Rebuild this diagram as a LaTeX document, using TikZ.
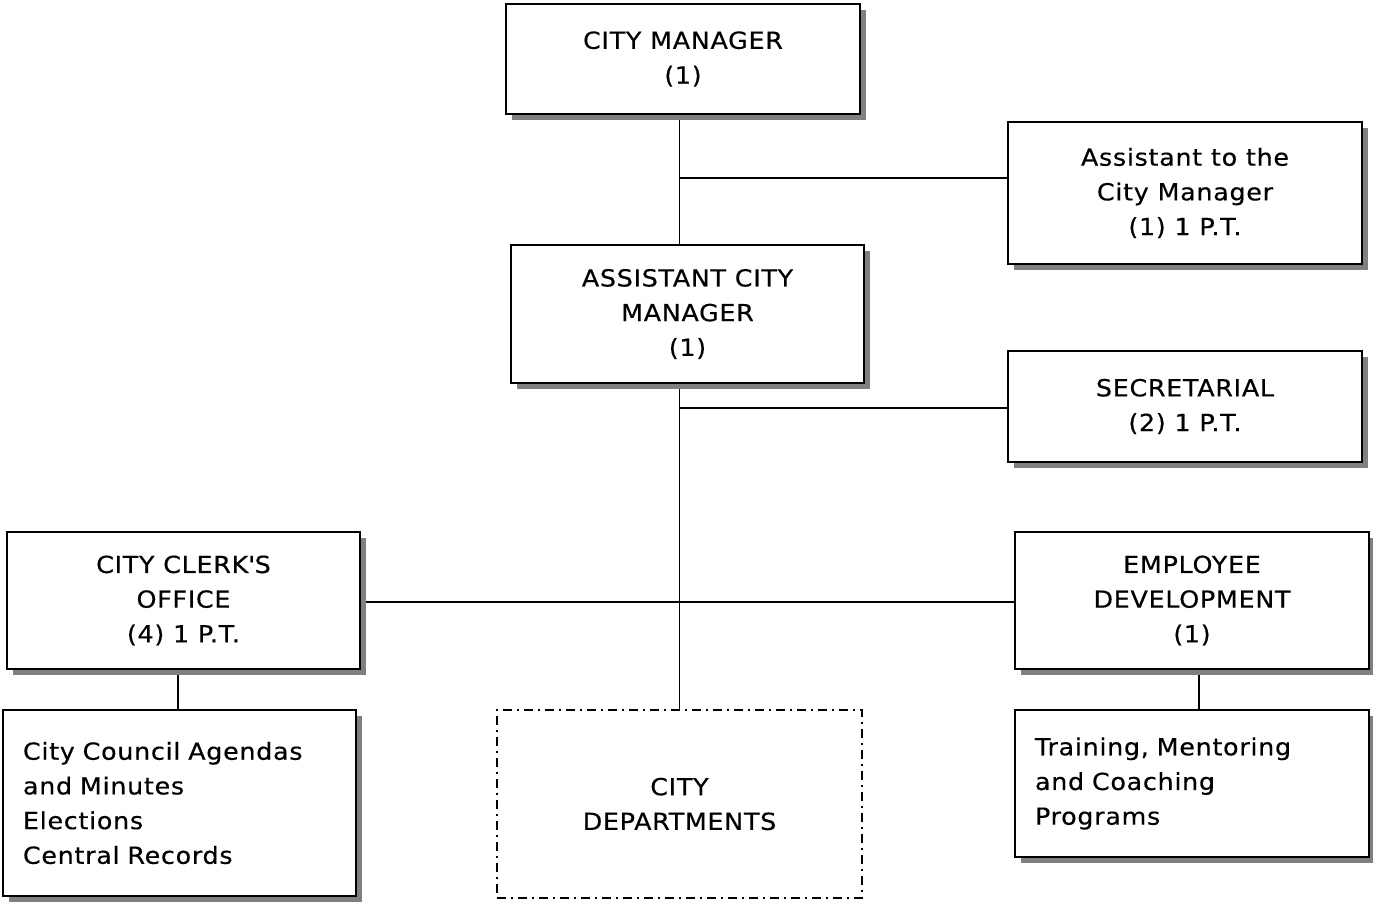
\documentclass[tikz,border=0pt]{standalone}
\usepackage{fontspec}
\setmainfont{DejaVu Sans}[FakeStretch=1.08, LetterSpace=3, FakeBold=0.4]
\usetikzlibrary{shadows,backgrounds}

\begin{document}
\begin{tikzpicture}[x=1pt,y=-1pt,
  every node/.style={font=\fontsize{23.5pt}{34.7pt}\selectfont, inner sep=0pt},
  orgbox/.style={draw, line width=1.9pt, fill=white, align=center,
    drop shadow={shadow xshift=6pt, shadow yshift=-6pt, fill=black!50, opacity=1}},
  listbox/.style={orgbox, align=left, inner xsep=20pt},
  deptbox/.style={draw, line width=1.5pt, align=center,
    dash pattern=on 9pt off 5pt on 2pt off 5pt},
  link/.style={line width=1.8pt}]

\useasboundingbox (0,0) rectangle (1373,907);

% top of the chart
\node[orgbox, minimum width=354pt, minimum height=110pt] (cm) at (683,59)
  {CITY MANAGER\\(1)};
\node[orgbox, minimum width=354pt, minimum height=142pt] (atcm) at (1185,193)
  {Assistant to the\\City Manager\\(1) 1 P.T.};
\node[orgbox, minimum width=353pt, minimum height=138pt] (acm) at (687.5,314)
  {ASSISTANT CITY\\MANAGER\\(1)};
\node[orgbox, minimum width=354pt, minimum height=111pt] (sec) at (1185,406.5)
  {SECRETARIAL\\(2) 1 P.T.};

% middle row
\node[orgbox, minimum width=353pt, minimum height=137pt] (clerk) at (183.5,600.5)
  {CITY CLERK\textquotesingle S\\OFFICE\\(4) 1 P.T.};
\node[orgbox, minimum width=354pt, minimum height=137pt] (emp) at (1192,600.5)
  {EMPLOYEE\\DEVELOPMENT\\(1)};

% bottom row
\node[listbox, text width=313pt, minimum height=186pt] (council) at (179.5,803)
  {City Council Agendas\\and Minutes\\Elections\\Central Records};
\node[deptbox, minimum width=365pt, minimum height=188pt] (dept) at (679.5,804)
  {CITY\\DEPARTMENTS};
\node[listbox, text width=314pt, minimum height=147pt] (train) at (1192,783.5)
  {Training, Mentoring\\and Coaching\\Programs};

% connectors, kept behind the boxes and their shadows
\begin{pgfonlayer}{background}
  \coordinate (j1) at (679,178);
  \coordinate (j2) at (679,408);
  \coordinate (j3) at (679,602);
  \draw[link] (cm.south -| dept.north) -- (acm.north -| dept.north);
  \draw[link] (j1) -- (j1 -| atcm.west);
  \draw[link] (acm.south -| dept.north) -- (dept.north);
  \draw[link] (j2) -- (j2 -| sec.west);
  \draw[link] (j3 -| clerk.east) -- (j3 -| emp.west);
  \draw[link] ([xshift=-1.5pt]clerk.south -| council.north) -- ([xshift=-1.5pt]council.north);
  \draw[link] ([xshift=7pt]emp.south) -- ([xshift=7pt]train.north);
\end{pgfonlayer}
\end{tikzpicture}
\end{document}
